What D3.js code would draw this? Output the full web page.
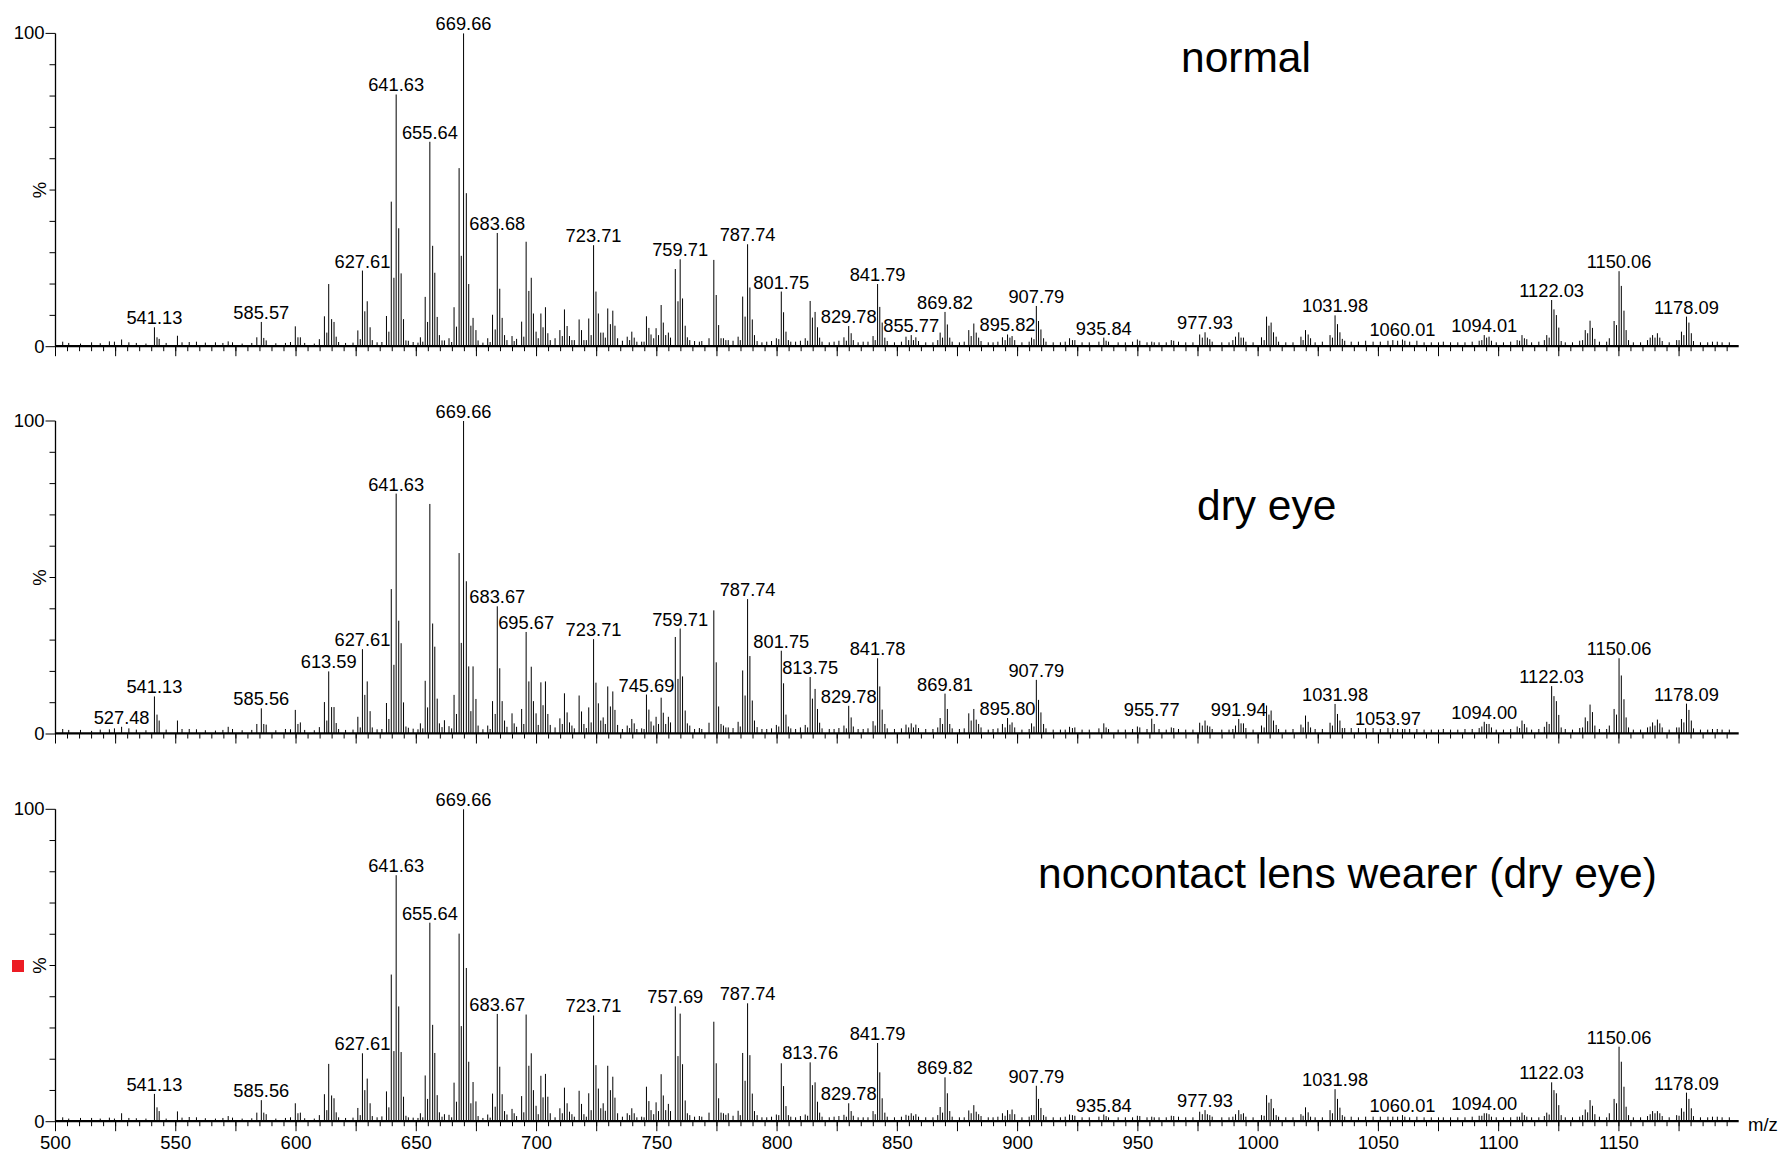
<!DOCTYPE html>
<html>
<head>
<meta charset="utf-8">
<script src="https://cdn.jsdelivr.net/npm/d3@7"></script>
<style>
  body { margin: 0; background: #fff; }
  svg { display: block; }
  text { font-family: "Liberation Sans", Arial, Helvetica, sans-serif; fill: #000; }
</style>
</head>
<body>
<svg id="chart" width="1779" height="1152"></svg>
<script>
// Peak positions (m/z), shared by the three spectra
var peakMz = [
  503.0, 505.5, 510.4, 515.0, 518.6, 522.4, 524.5, 527.48, 530.5, 533.6,
  537.6, 541.13, 542.2, 543.1, 546.0, 550.7, 552.6, 555.6, 558.6, 562.3,
  566.5, 569.6, 571.8, 573.6, 577.6, 581.6, 583.7, 585.57, 586.6, 587.6,
  591.6, 595.6, 597.7, 599.7, 600.8, 601.8, 603.6, 607.6, 609.7, 611.8,
  612.8, 613.59, 614.8, 615.8, 616.7, 617.7, 620.6, 623.7, 625.7, 626.7,
  627.61, 628.6, 629.6, 630.8, 631.7, 633.7, 635.7, 637.6, 638.6, 639.6,
  640.7, 641.63, 642.7, 643.7, 644.7, 645.7, 646.7, 648.7, 650.7, 651.7,
  652.7, 653.7, 654.7, 655.64, 656.8, 657.7, 658.7, 659.6, 660.7, 661.7,
  663.6, 664.7, 665.7, 666.7, 667.8, 668.7, 669.66, 670.8, 671.8, 672.7,
  673.6, 674.8, 675.7, 677.7, 679.7, 680.7, 681.7, 682.8, 683.67, 684.7,
  685.7, 686.7, 687.7, 689.8, 690.7, 691.7, 693.8, 694.7, 695.67, 696.8,
  697.8, 698.7, 699.8, 700.7, 701.8, 702.7, 703.7, 704.7, 705.7, 707.7,
  709.7, 710.7, 711.6, 712.7, 713.7, 714.7, 715.7, 717.7, 718.7, 719.7,
  720.7, 721.7, 722.7, 723.71, 724.7, 725.7, 726.7, 727.7, 728.6, 729.6,
  730.7, 731.7, 732.6, 733.7, 735.7, 737.7, 738.7, 739.6, 740.6, 741.7,
  743.7, 744.7, 745.69, 746.7, 747.6, 748.7, 749.7, 750.7, 751.8, 752.7,
  753.7, 754.8, 755.7, 757.69, 758.8, 759.71, 760.7, 761.8, 762.7, 763.7,
  765.7, 767.7, 768.7, 771.7, 773.7, 774.7, 775.7, 776.7, 777.7, 778.7,
  779.7, 781.7, 783.8, 784.7, 785.7, 786.7, 787.74, 788.7, 789.7, 790.6,
  791.7, 793.7, 795.7, 797.7, 799.7, 800.7, 801.75, 802.7, 803.7, 804.7,
  805.7, 807.7, 809.7, 811.7, 812.7, 813.75, 814.7, 815.8, 816.8, 817.7,
  818.7, 821.7, 823.7, 825.7, 827.8, 828.8, 829.78, 830.8, 831.7, 833.7,
  835.8, 837.8, 839.9, 840.8, 841.79, 842.7, 843.7, 844.8, 845.8, 848.8,
  851.7, 853.6, 854.7, 855.77, 856.7, 857.7, 858.8, 861.8, 864.8, 866.8,
  867.8, 868.8, 869.82, 870.8, 871.8, 872.8, 875.8, 877.8, 879.7, 880.7,
  881.8, 882.8, 883.8, 884.8, 887.8, 889.8, 891.8, 893.7, 894.8, 895.82,
  896.8, 897.7, 898.8, 901.8, 904.8, 905.8, 906.8, 907.79, 908.7, 909.7,
  910.8, 911.8, 914.8, 917.8, 919.8, 921.6, 922.8, 923.8, 926.8, 929.8,
  933.8, 935.84, 936.8, 937.8, 941.8, 944.8, 947.8, 949.8, 950.8, 953.8,
  955.77, 956.8, 958.8, 961.8, 963.9, 964.9, 966.9, 969.9, 972.9, 975.7,
  976.8, 977.93, 978.9, 979.9, 980.9, 984.9, 987.9, 989.5, 990.6, 991.94,
  992.9, 993.9, 994.9, 997.9, 1001.4, 1002.5, 1003.5, 1004.5, 1005.4, 1006.4,
  1007.5, 1008.5, 1011.5, 1014.5, 1017.8, 1018.7, 1019.7, 1020.8, 1021.8, 1023.7,
  1026.7, 1029.9, 1030.9, 1031.98, 1033.0, 1034.0, 1035.0, 1036.0, 1038.7, 1041.7,
  1044.7, 1047.8, 1050.8, 1053.97, 1056.0, 1058.0, 1060.01, 1061.0, 1063.0, 1066.0,
  1069.0, 1072.0, 1075.0, 1077.0, 1080.0, 1083.0, 1086.0, 1089.0, 1091.9, 1093.0,
  1094.01, 1095.0, 1096.0, 1097.0, 1099.0, 1102.0, 1105.0, 1107.7, 1108.7, 1109.7,
  1110.7, 1111.7, 1113.7, 1116.7, 1119.0, 1120.0, 1121.0, 1122.03, 1123.0, 1124.0,
  1125.0, 1126.0, 1127.7, 1130.7, 1133.7, 1134.9, 1136.0, 1137.0, 1138.0, 1139.0,
  1140.0, 1141.9, 1144.9, 1146.0, 1148.0, 1149.0, 1150.06, 1151.0, 1152.1, 1153.0,
  1154.0, 1156.0, 1159.0, 1161.9, 1163.0, 1164.0, 1165.0, 1166.0, 1167.0, 1168.0,
  1170.9, 1174.0, 1175.0, 1176.0, 1177.0, 1178.09, 1179.1, 1180.1, 1181.0, 1183.9,
  1186.9, 1188.9, 1190.9, 1192.9, 1195.9
];

// Relative intensity (%) per spectrum, same order as peakMz
var normalPct = [
  1.6, 1.2, 1.0, 1.4, 1.1, 1.7, 1.6, 2.3, 1.4, 1.2,
  1.0, 6.2, 3.0, 2.5, 1.2, 3.5, 1.4, 1.5, 1.6, 1.3,
  1.4, 1.2, 1.7, 1.4, 1.0, 1.2, 3.0, 7.9, 2.8, 2.0,
  1.1, 1.2, 1.5, 6.5, 3.0, 3.0, 1.2, 1.0, 2.4, 9.7,
  4.5, 20.0, 8.8, 7.9, 3.2, 1.5, 1.2, 1.3, 5.2, 2.4,
  24.3, 11.3, 14.5, 6.2, 2.1, 1.4, 1.5, 9.8, 4.8, 46.3,
  22.0, 80.5, 37.8, 23.4, 8.8, 2.0, 1.9, 1.5, 1.3, 3.0,
  1.6, 15.9, 7.9, 65.4, 32.2, 23.6, 9.5, 3.7, 2.0, 2.0,
  2.7, 1.5, 12.6, 6.4, 57.0, 29.0, 100, 49.0, 20.0, 6.7,
  9.2, 5.3, 2.0, 1.3, 2.7, 1.5, 10.2, 5.5, 36.3, 18.5,
  9.2, 3.7, 2.1, 3.4, 1.8, 2.5, 8.0, 3.2, 33.5, 17.8,
  22.0, 10.6, 4.8, 2.7, 10.6, 6.2, 12.6, 4.3, 2.1, 2.7,
  5.3, 3.4, 11.9, 6.6, 3.4, 2.1, 2.1, 8.7, 5.3, 2.1,
  2.1, 9.0, 3.7, 32.4, 17.6, 10.6, 4.5, 4.5, 2.9, 12.2,
  7.2, 11.5, 6.7, 2.7, 1.9, 3.2, 2.1, 4.8, 2.9, 1.6,
  1.6, 1.6, 9.7, 6.0, 3.9, 2.7, 5.9, 3.7, 13.3, 7.7,
  3.7, 4.5, 2.9, 24.8, 14.5, 27.9, 15.4, 6.7, 3.0, 2.1,
  1.8, 1.6, 1.8, 2.7, 27.7, 16.5, 6.9, 2.7, 2.7, 2.1,
  2.1, 1.9, 3.2, 2.1, 16.0, 9.6, 32.7, 18.9, 8.7, 3.7,
  1.8, 1.4, 1.6, 1.8, 2.7, 2.4, 17.6, 11.0, 4.8, 2.1,
  1.6, 1.6, 1.9, 2.7, 1.9, 14.6, 9.3, 11.1, 6.2, 2.9,
  1.6, 1.4, 1.6, 1.9, 3.0, 1.9, 6.6, 4.3, 2.1, 1.4,
  1.6, 1.6, 3.4, 2.1, 20.0, 12.7, 7.7, 2.9, 1.8, 1.4,
  1.6, 3.2, 2.1, 3.7, 2.1, 3.0, 1.8, 1.4, 1.4, 2.1,
  4.5, 2.9, 11.1, 7.1, 2.9, 1.6, 1.4, 1.6, 5.3, 3.4,
  7.4, 4.5, 2.9, 1.8, 1.4, 1.4, 1.6, 3.0, 2.1, 3.9,
  2.9, 3.4, 2.1, 1.4, 1.6, 2.9, 2.4, 13.0, 8.2, 5.5,
  2.7, 1.6, 1.4, 1.4, 1.6, 2.7, 2.1, 2.1, 1.4, 1.4,
  1.6, 2.9, 1.9, 1.6, 1.4, 1.4, 1.6, 2.3, 1.9, 1.4,
  1.6, 1.4, 1.4, 1.4, 2.1, 1.9, 1.6, 1.4, 1.4, 3.9,
  2.9, 4.6, 2.9, 2.4, 1.6, 1.4, 1.4, 2.1, 3.2, 4.6,
  2.9, 2.9, 1.6, 1.4, 3.0, 2.1, 9.6, 6.7, 7.7, 4.6,
  3.2, 1.6, 1.4, 1.4, 3.2, 2.1, 5.3, 3.9, 2.7, 1.4,
  1.6, 3.7, 2.9, 10.0, 7.2, 4.6, 2.5, 1.9, 1.6, 1.6,
  1.9, 1.6, 1.6, 1.9, 2.1, 1.9, 2.3, 1.9, 1.6, 1.9,
  1.4, 1.4, 1.4, 1.6, 1.4, 1.4, 1.4, 1.6, 1.9, 2.1,
  3.7, 2.9, 3.2, 1.9, 1.4, 1.4, 1.6, 2.1, 1.9, 3.7,
  2.7, 2.4, 1.4, 1.6, 2.1, 3.7, 2.9, 14.9, 11.9, 10.1,
  6.1, 1.8, 1.4, 1.4, 1.9, 2.1, 5.3, 4.3, 8.3, 6.0,
  2.5, 1.6, 1.6, 2.7, 8.2, 6.9, 24.1, 19.4, 11.5, 5.3,
  2.1, 1.4, 1.4, 2.1, 2.9, 3.7, 2.9, 4.3, 2.9, 1.8,
  1.4, 2.1, 2.1, 4.8, 3.7, 9.6, 7.7, 4.3, 1.8, 1.4,
  1.4, 1.6, 1.6, 1.4, 1.4
];

var dryEyePct = [
  1.6, 1.3, 1.3, 1.0, 1.4, 1.5, 1.8, 2.3, 1.8, 1.4,
  1.2, 12.0, 6.2, 4.3, 1.4, 4.3, 1.6, 1.6, 1.5, 1.2,
  1.1, 1.3, 2.3, 1.6, 1.2, 1.3, 3.2, 8.2, 3.2, 3.0,
  1.2, 1.6, 1.5, 7.7, 3.2, 3.7, 1.3, 1.2, 2.2, 10.2,
  4.3, 20.0, 8.6, 8.6, 3.5, 1.6, 1.3, 1.4, 5.5, 2.1,
  27.1, 12.5, 16.8, 7.3, 2.1, 1.5, 1.6, 9.9, 4.8, 46.3,
  22.1, 76.8, 36.2, 29.0, 10.1, 2.4, 2.0, 1.7, 1.5, 3.4,
  1.8, 17.0, 8.5, 73.5, 35.3, 27.9, 11.3, 3.4, 2.2, 4.4,
  2.5, 1.8, 12.5, 6.4, 57.8, 29.1, 100, 48.8, 21.6, 7.3,
  21.6, 11.2, 2.7, 1.5, 2.7, 1.6, 10.5, 6.4, 40.8, 21.0,
  10.5, 4.3, 2.3, 6.6, 3.4, 2.3, 8.0, 3.2, 32.6, 16.8,
  21.5, 10.5, 6.6, 2.9, 16.5, 9.2, 16.8, 6.4, 2.9, 2.1,
  5.0, 3.2, 13.0, 6.9, 3.7, 2.7, 1.8, 12.3, 7.2, 3.2,
  1.9, 8.5, 3.7, 30.3, 16.4, 9.8, 4.3, 5.3, 3.2, 15.2,
  8.8, 13.6, 7.7, 2.9, 1.6, 2.7, 1.9, 4.8, 3.4, 1.6,
  1.8, 1.6, 12.6, 7.8, 4.0, 2.7, 5.5, 3.2, 11.6, 6.8,
  3.2, 5.5, 3.7, 31.0, 17.6, 33.7, 18.4, 7.5, 3.4, 2.7,
  1.6, 1.9, 1.6, 3.6, 39.5, 22.9, 8.8, 3.2, 2.7, 2.1,
  2.1, 1.9, 3.9, 2.4, 20.3, 12.3, 43.1, 24.9, 10.7, 4.3,
  2.2, 1.6, 1.6, 1.8, 2.9, 2.4, 26.6, 16.2, 6.2, 2.4,
  1.8, 1.6, 2.1, 2.9, 2.1, 18.2, 11.3, 14.4, 8.0, 3.6,
  1.8, 1.6, 1.6, 1.9, 2.7, 1.8, 9.0, 5.3, 2.4, 1.6,
  1.6, 1.8, 4.1, 2.7, 24.2, 15.2, 7.8, 3.2, 1.8, 1.6,
  1.8, 3.0, 2.1, 3.4, 2.1, 3.0, 1.9, 1.6, 1.6, 2.1,
  5.1, 3.2, 12.9, 8.0, 3.2, 1.8, 1.6, 1.8, 6.6, 4.3,
  8.0, 4.6, 3.2, 2.1, 1.4, 1.6, 1.8, 3.2, 2.1, 5.1,
  3.0, 3.7, 2.1, 1.4, 1.6, 3.4, 2.4, 17.3, 10.9, 6.9,
  3.2, 1.8, 1.4, 1.4, 1.4, 2.3, 1.9, 2.1, 1.4, 1.4,
  1.8, 3.4, 2.1, 1.6, 1.4, 1.4, 1.6, 2.4, 2.1, 1.6,
  4.9, 3.2, 1.6, 1.4, 2.1, 1.9, 1.6, 1.4, 1.4, 3.6,
  2.7, 4.3, 2.7, 2.4, 1.6, 1.4, 1.4, 1.6, 2.7, 4.8,
  3.4, 3.4, 1.9, 1.4, 2.7, 2.1, 9.1, 6.2, 7.5, 4.3,
  2.9, 1.6, 1.4, 1.6, 3.0, 2.1, 5.9, 3.9, 2.1, 1.6,
  1.6, 3.6, 2.7, 9.6, 6.4, 4.3, 1.9, 1.9, 1.9, 1.9,
  1.9, 1.9, 1.6, 1.9, 1.9, 1.6, 1.6, 1.6, 1.6, 1.6,
  1.4, 1.4, 1.4, 1.6, 1.4, 1.4, 1.6, 1.6, 1.9, 2.4,
  3.9, 3.2, 3.2, 2.1, 1.4, 1.4, 1.6, 2.4, 1.9, 4.3,
  3.2, 2.1, 1.4, 1.6, 2.3, 3.9, 3.2, 15.3, 12.1, 10.5,
  6.1, 2.1, 1.6, 1.4, 1.9, 2.1, 5.3, 4.1, 9.4, 7.0,
  2.7, 1.6, 1.6, 2.7, 8.0, 6.2, 24.2, 18.7, 11.1, 5.3,
  2.1, 1.4, 1.4, 2.1, 2.4, 3.7, 2.7, 4.6, 3.4, 2.1,
  1.4, 2.1, 2.1, 4.8, 3.7, 9.7, 7.7, 4.3, 1.8, 1.4,
  1.4, 1.6, 1.6, 1.4, 1.4
];

var noncontactPct = [
  1.4, 1.0, 1.2, 1.2, 1.0, 1.3, 1.0, 2.7, 1.2, 1.1,
  1.0, 8.9, 4.6, 3.4, 1.0, 3.3, 1.3, 1.5, 1.4, 1.1,
  1.0, 1.2, 1.8, 1.3, 1.0, 1.1, 2.9, 6.9, 2.9, 2.4,
  1.0, 1.2, 1.4, 5.9, 2.7, 2.9, 1.1, 1.0, 2.1, 8.8,
  3.7, 18.5, 8.4, 7.5, 3.0, 1.4, 1.2, 1.3, 4.4, 2.1,
  21.9, 10.1, 13.8, 5.9, 1.8, 1.4, 1.7, 9.7, 4.6, 47.1,
  22.6, 78.9, 36.9, 22.3, 8.0, 1.9, 1.4, 1.3, 1.2, 2.7,
  1.4, 14.8, 7.3, 63.7, 31.0, 22.0, 8.5, 3.0, 1.6, 2.4,
  2.2, 1.4, 12.5, 6.4, 60.2, 30.6, 100, 49.2, 19.2, 5.9,
  12.7, 6.5, 1.8, 1.2, 2.3, 1.3, 9.0, 4.8, 34.5, 17.6,
  8.8, 3.4, 2.3, 4.1, 2.7, 1.8, 8.2, 3.0, 34.3, 17.9,
  21.9, 10.1, 5.1, 2.4, 14.7, 7.8, 15.3, 8.0, 2.7, 1.4,
  4.3, 2.7, 10.9, 5.9, 3.2, 2.4, 1.6, 9.9, 5.7, 2.4,
  1.6, 9.1, 3.7, 34.0, 18.1, 10.6, 4.3, 5.9, 3.5, 17.9,
  10.1, 14.4, 7.7, 2.7, 1.6, 2.7, 2.1, 4.3, 2.7, 1.4,
  1.6, 1.4, 11.2, 6.6, 3.7, 2.4, 6.2, 3.4, 15.2, 8.4,
  3.7, 5.7, 3.4, 36.9, 21.0, 34.6, 18.4, 6.8, 2.7, 2.1,
  1.6, 1.8, 1.6, 2.9, 32.0, 18.7, 7.5, 2.9, 2.7, 2.2,
  2.7, 1.9, 3.5, 2.1, 22.0, 13.1, 37.9, 21.3, 9.0, 3.4,
  2.1, 1.4, 1.4, 1.6, 2.3, 2.1, 18.7, 11.4, 5.0, 2.1,
  1.6, 1.4, 1.8, 2.3, 1.9, 19.0, 11.7, 12.6, 6.4, 2.9,
  1.6, 1.4, 1.6, 1.8, 2.2, 1.6, 5.9, 3.4, 1.9, 1.4,
  1.4, 1.4, 3.4, 2.4, 25.2, 15.8, 7.5, 2.9, 1.6, 1.4,
  1.6, 2.2, 1.9, 2.7, 1.9, 2.4, 1.6, 1.4, 1.4, 2.1,
  4.7, 2.9, 14.2, 9.1, 3.4, 1.6, 1.4, 1.4, 3.6, 2.7,
  5.3, 3.2, 2.4, 1.8, 1.4, 1.4, 1.6, 2.7, 1.9, 3.7,
  2.4, 3.9, 2.4, 1.4, 1.6, 2.1, 2.1, 11.5, 7.3, 4.4,
  2.1, 1.6, 1.4, 1.4, 1.6, 2.3, 2.1, 1.9, 1.4, 1.4,
  1.6, 2.3, 1.8, 1.4, 1.4, 1.4, 1.4, 1.9, 1.8, 1.4,
  1.6, 1.4, 1.4, 1.4, 1.9, 1.8, 1.6, 1.4, 1.4, 3.2,
  2.4, 3.7, 2.4, 2.1, 1.6, 1.4, 1.4, 1.6, 2.4, 3.7,
  2.4, 2.7, 1.6, 1.4, 2.1, 1.9, 8.5, 6.1, 7.3, 4.3,
  2.1, 1.6, 1.4, 1.4, 2.4, 1.9, 4.6, 3.0, 1.6, 1.4,
  1.4, 3.7, 2.7, 10.4, 7.3, 4.5, 2.1, 1.6, 1.6, 1.4,
  1.6, 1.6, 1.6, 1.6, 1.6, 1.6, 2.1, 1.6, 1.4, 1.6,
  1.4, 1.4, 1.4, 1.4, 1.4, 1.4, 1.4, 1.6, 1.9, 1.9,
  2.7, 2.7, 2.4, 1.6, 1.4, 1.4, 1.4, 1.6, 1.6, 2.9,
  2.1, 1.6, 1.4, 1.4, 1.8, 2.9, 2.3, 12.6, 10.1, 9.1,
  5.3, 2.1, 1.4, 1.4, 1.6, 2.1, 3.9, 3.0, 6.9, 5.1,
  2.4, 1.6, 1.4, 2.7, 7.3, 5.9, 24.0, 19.2, 11.2, 4.8,
  2.1, 1.4, 1.4, 1.8, 2.4, 3.4, 2.7, 3.4, 2.7, 1.8,
  1.4, 2.1, 1.9, 4.3, 3.2, 9.3, 7.3, 4.3, 1.8, 1.4,
  1.4, 1.6, 1.6, 1.4, 1.4
];

// Annotated peaks in each spectrum
var normalLabels = ["541.13", "585.57", "627.61", "641.63", "655.64", "669.66", "683.68",
  "723.71", "759.71", "787.74", "801.75", "829.78", "841.79", "855.77", "869.82", "895.82",
  "907.79", "935.84", "977.93", "1031.98", "1060.01", "1094.01", "1122.03", "1150.06", "1178.09"];
var dryEyeLabels = ["527.48", "541.13", "585.56", "613.59", "627.61", "641.63", "669.66",
  "683.67", "695.67", "723.71", "745.69", "759.71", "787.74", "801.75", "813.75", "829.78",
  "841.78", "869.81", "895.80", "907.79", "955.77", "991.94", "1031.98", "1053.97", "1094.00",
  "1122.03", "1150.06", "1178.09"];
var noncontactLabels = ["541.13", "585.56", "627.61", "641.63", "655.64", "669.66", "683.67",
  "723.71", "757.69", "787.74", "813.76", "829.78", "841.79", "869.82", "907.79", "935.84",
  "977.93", "1031.98", "1060.01", "1094.00", "1122.03", "1150.06", "1178.09"];

var xTickLabels = d3.range(500, 1151, 50);

// Layout of the three stacked panels
var panels = [
  { title: "normal", pct: normalPct, labels: normalLabels,
    top: 33.4, bottom: 346.7, titleX: 1181, titleY: 71.7, showTicks: false },
  { title: "dry eye", pct: dryEyePct, labels: dryEyeLabels,
    top: 421, bottom: 734, titleX: 1197, titleY: 520, showTicks: false },
  { title: "noncontact lens wearer (dry eye)", pct: noncontactPct, labels: noncontactLabels,
    top: 809.3, bottom: 1121.7, titleX: 1038, titleY: 887.5, showTicks: true }
];

var svg = d3.select("#chart");
var x = d3.scaleLinear().domain([500, 1199.8]).range([55.5, 1738.7]);

function nearestPeak(mz) {
  var best = 0;
  peakMz.forEach(function(m, i) {
    if (Math.abs(m - mz) < Math.abs(peakMz[best] - mz)) best = i;
  });
  return best;
}

function styleAxis(g, domainWidth) {
  g.selectAll("path.domain").attr("stroke", "#000").attr("stroke-width", domainWidth || 1.3);
  g.selectAll(".tick line").attr("stroke", "#000").attr("stroke-width", 1);
  g.selectAll("text")
    .attr("font-family", '"Liberation Sans", Arial, sans-serif')
    .attr("font-size", 18.5)
    .attr("fill", "#000");
  g.attr("font-family", null).attr("font-size", null);
}

panels.forEach(function(p) {
  var y = d3.scaleLinear().domain([0, 100]).range([p.bottom, p.top]);
  var g = svg.append("g").attr("class", "panel");

  // spectrum sticks
  var peaks = peakMz.map(function(m, i) { return { mz: m, v: p.pct[i] }; });
  g.append("g").selectAll("line")
    .data(peaks)
    .join("line")
      .attr("x1", function(d) { return x(d.mz); })
      .attr("x2", function(d) { return x(d.mz); })
      .attr("y1", y(0))
      .attr("y2", function(d) { return y(d.v); })
      .attr("stroke", "#000")
      .attr("stroke-width", 1);

  // x axis: minor ticks every 5, long ticks every 25; thick baseline like the noise floor
  var xMinor = g.append("g").attr("transform", "translate(0," + y(0) + ")")
    .call(d3.axisBottom(x).tickValues(d3.range(500, 1199, 5)).tickSize(4.5)
      .tickSizeOuter(0).tickFormat("").offset(0));
  styleAxis(xMinor, 2.4);
  xMinor.select("path.domain").attr("transform", "translate(0,-0.6)");
  var xMajor = g.append("g").attr("transform", "translate(0," + y(0) + ")")
    .call(d3.axisBottom(x).tickValues(d3.range(500, 1199, 25)).tickSize(9.5)
      .tickSizeOuter(0).tickPadding(5).offset(0)
      .tickFormat(function(d) {
        return (p.showTicks && xTickLabels.indexOf(d) >= 0) ? d : "";
      }));
  styleAxis(xMajor);
  xMajor.select("path.domain").remove();

  // y axis
  var yMinor = g.append("g").attr("transform", "translate(" + x(500) + ",0)")
    .call(d3.axisLeft(y).tickValues(d3.range(10, 100, 10)).tickSize(6)
      .tickSizeOuter(0).tickFormat("").offset(0));
  styleAxis(yMinor);
  var yMajor = g.append("g").attr("transform", "translate(" + x(500) + ",0)")
    .call(d3.axisLeft(y).tickValues([0, 100]).tickSize(10).tickPadding(1)
      .tickSizeOuter(0).tickFormat(d3.format("d")).offset(0));
  styleAxis(yMajor);
  yMajor.select("path.domain").remove();

  g.append("text")
    .attr("transform", "translate(40," + y(50) + ") rotate(-90)")
    .attr("dy", "0.35em")
    .attr("text-anchor", "middle")
    .attr("font-size", 18.5)
    .text("%");

  // peak annotations
  g.append("g").selectAll("text")
    .data(p.labels)
    .join("text")
      .attr("x", function(d) { return x(peakMz[nearestPeak(+d)]); })
      .attr("y", function(d) { return y(p.pct[nearestPeak(+d)]) - 3; })
      .attr("text-anchor", "middle")
      .attr("font-size", 18.3)
      .text(function(d) { return d; });

  g.append("text")
    .attr("x", p.titleX)
    .attr("y", p.titleY)
    .attr("font-size", 42.5)
    .text(p.title);

  if (p.showTicks) {
    g.append("text")
      .attr("x", 1748)
      .attr("y", 1130.7)
      .attr("font-size", 18.5)
      .text("m/z");
    g.append("rect")
      .attr("x", 12).attr("y", 960)
      .attr("width", 12).attr("height", 12)
      .attr("fill", "#ec1c24");
  }
});
</script>
</body>
</html>
